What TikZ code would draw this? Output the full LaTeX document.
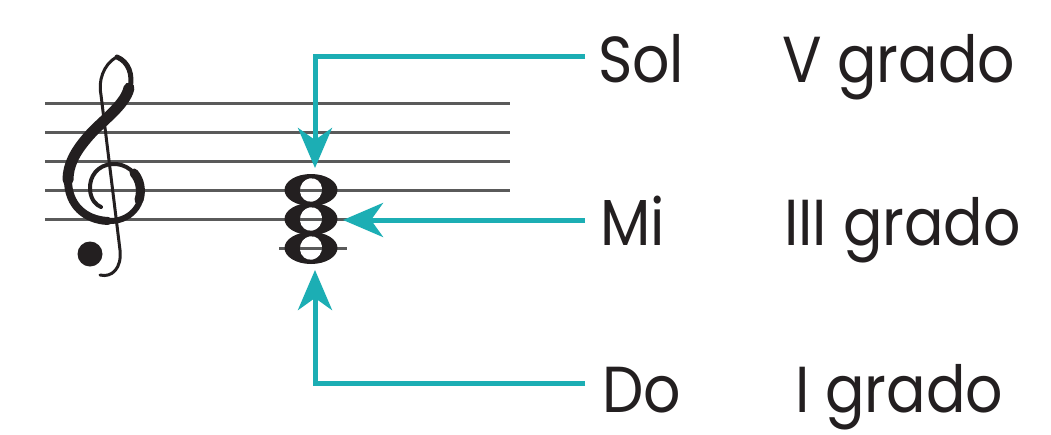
\documentclass[tikz,border=0pt]{standalone}
\usepackage{fontspec}
\setmainfont{Poppins}
\newfontfamily\labfont[FakeStretch=0.9]{Poppins}
\usetikzlibrary{arrows.meta}
\definecolor{teal1}{HTML}{1CAEB4}
\definecolor{ink}{HTML}{231F20}
\definecolor{staffgray}{HTML}{5A5A5A}
\tikzset{
  staffline/.style={staffgray, line width=3pt},
  conn/.style={teal1, line width=5pt, -{Stealth[length=40pt,width=34pt,inset=12pt]}},
  label/.style={ink, inner sep=0pt, anchor=base west, font=\labfont\fontsize{65}{70}\selectfont},
  clefstroke/.style={ink, line cap=round, line join=round},
}
\begin{document}
\begin{tikzpicture}[x=1pt,y=-1pt]
\useasboundingbox (0,0) rectangle (1051,434);
\fill[white] (0,0) rectangle (1051,434);
% staff
\foreach \yy in {103,132,161,190,219} \draw[staffline] (45,\yy) -- (510,\yy);
\draw[staffline] (279,248) -- (347,248);
% clef
\draw[clefstroke, line width=3pt] (117,57) .. controls (103,64) and (98,82) .. (101,95) -- (120,250) .. controls (122,268) and (112,278) .. (100,275);
\fill[ink] (90,254) circle[radius=12.5pt];
\draw[clefstroke, line width=5pt] (117,57) .. controls (129,62) and (133,75) .. (130,88);
\draw[clefstroke, line width=11pt] (129,88) .. controls (125,106) and (100,122) .. (87,138) .. controls (75,152) and (68,165) .. (68,180);
\draw[clefstroke, line width=8pt] (68,180) .. controls (68,205) and (85,220) .. (108,221);
\draw[clefstroke, line width=6pt] (108,221) .. controls (130,222) and (143,205) .. (141,190);
\draw[clefstroke, line width=9pt] (139,200) .. controls (142,190) and (140,180) .. (134,173);
\draw[clefstroke, line width=4pt] (141,190) .. controls (139,172) and (125,163) .. (112,164) .. controls (98,165) and (89,176) .. (90,190) .. controls (91,200) and (96,205) .. (101,207);
% notes
\coordinate (G) at (311,190);
\coordinate (E) at (311,219);
\coordinate (C) at (311,248);
\foreach \n in {G,E,C} \fill[ink] (\n) ellipse[x radius=26.5pt, y radius=16pt];
\foreach \n in {G,E,C} {
  \fill[white, rotate around={-15:(\n)}] (\n) ellipse[x radius=11pt, y radius=11.8pt];
  \draw[staffgray, line width=3pt] ([xshift=-10.8pt]\n) -- ([xshift=10.8pt]\n);
}
% labels
\node[label] (sol) at (598,82) {Sol};
\node[label] (mi) at (600,245) {Mi};
\node[label] (do) at (602,412) {Do};
\node[label] (v) at (782,82) {V grado};
\node[label] (iii) at (784,245) {III grado};
\node[label] (i) at (795,412) {I grado};
% connectors
\coordinate (solStart) at (585,56);
\coordinate (solEnd) at (315,168);
\coordinate (miStart) at (585,220);
\coordinate (miEnd) at (343,220);
\coordinate (doStart) at (585,383);
\coordinate (doEnd) at (315,270);
\draw[conn] (solStart) -| (solEnd);
\draw[conn] (miStart) -- (miEnd);
\draw[conn] (doStart) -| (doEnd);
\end{tikzpicture}
\end{document}
